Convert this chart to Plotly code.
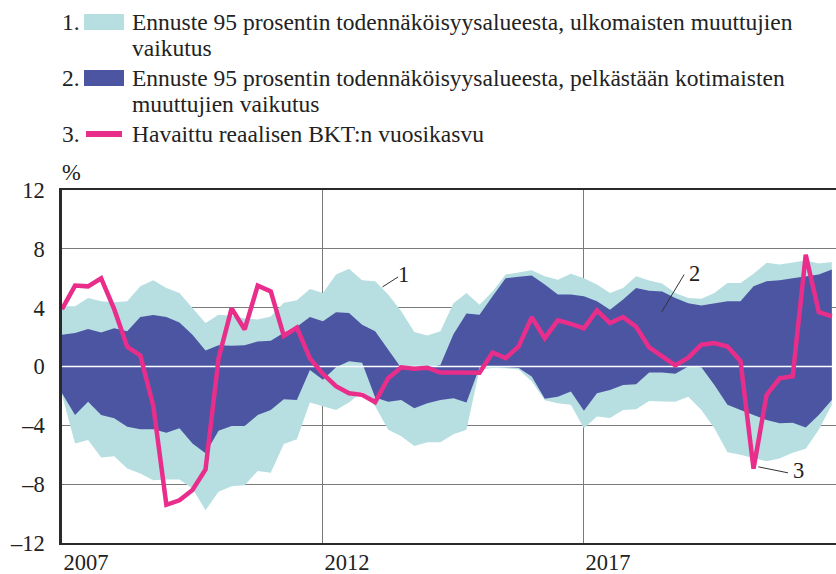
import plotly.graph_objects as go

# ---------------- data (quarterly, 2007Q1 .. 2021Q4) ----------------
start_year = 2007
quarters = 60
x_vals = [start_year + 0.25 * k for k in range(quarters)]

light_upper = [4.09, 4.09, 4.66, 4.43, 4.36, 4.43, 5.45, 5.86, 5.34, 5.0,
               3.98, 2.95, 3.52, 3.45, 3.27, 3.2, 3.4, 4.33, 4.5, 5.27,
               5.0, 6.25, 6.64, 5.86, 5.8, 4.9, 3.75, 2.35, 2.1, 2.39,
               4.3, 5.0, 4.2, 5.1, 6.25, 6.4, 6.55, 6.14, 5.9, 6.3,
               6.0, 5.57, 5.0, 5.34, 6.14, 5.85, 5.64, 5.0, 4.66, 4.6,
               5.0, 5.68, 5.68, 6.3, 7.05, 6.93, 7.05, 7.2, 7.0, 7.1]
light_lower = [-1.93, -5.23, -5.0, -6.18, -6.1, -6.93, -7.27, -7.73, -7.68, -7.68,
               -8.3, -9.77, -8.52, -8.14, -8.07, -7.1, -7.23, -5.27, -4.95, -2.45,
               -2.7, -2.95, -2.45, -1.7, -2.7, -4.3, -4.75, -5.4, -5.15, -5.15,
               -4.6, -4.3, -0.2, -0.1, -0.12, -0.2, -1.0, -2.3, -2.5, -2.6,
               -4.2, -3.4, -3.5, -2.95, -2.9, -2.35, -2.38, -2.4, -2.05, -2.95,
               -4.2, -5.83, -6.0, -6.25, -6.45, -6.25, -5.87, -5.6, -4.3, -2.6]
dark_upper = [2.16, 2.27, 2.55, 2.32, 2.6, 2.39, 3.36, 3.5, 3.36, 3.0,
              2.16, 1.09, 1.45, 1.41, 1.45, 1.7, 1.75, 2.3, 2.7, 3.36,
              3.07, 3.68, 3.64, 2.84, 2.39, 1.1, -0.1, -0.2, -0.1, 0.1,
              2.2, 3.6, 3.52, 4.77, 6.0, 6.1, 6.18, 5.57, 4.89, 4.89,
              4.77, 4.43, 3.86, 4.55, 5.34, 5.15, 5.1, 4.66, 4.3, 4.14,
              4.3, 4.43, 4.43, 5.45, 5.8, 5.86, 6.0, 6.14, 6.25, 6.6]
dark_lower = [-1.82, -3.3, -2.39, -3.3, -3.52, -4.09, -4.27, -4.27, -4.5, -4.2,
              -5.23, -5.9, -4.36, -4.05, -4.05, -3.3, -2.95, -2.23, -2.27, -0.23,
              -0.9, -0.05, 0.35, 0.25, -2.1, -2.39, -2.27, -2.84, -2.5, -2.27,
              -2.16, -2.45, -0.05, -0.02, -0.05, -0.1, -0.68, -2.2, -2.05, -1.7,
              -3.0, -1.82, -1.6, -1.25, -1.2, -0.4, -0.41, -0.5, 0.0, -0.05,
              -1.25, -2.6, -2.95, -3.3, -3.64, -3.86, -3.82, -4.14, -3.3, -2.27]
gdp_growth = [3.9, 5.5, 5.45, 6.0, 3.9, 1.34, 0.76, -2.7, -9.4, -9.1,
              -8.4, -7.0, 0.55, 3.95, 2.52, 5.5, 5.1, 2.08, 2.65, 0.55,
              -0.5, -1.34, -1.82, -1.93, -2.42, -0.8, -0.05, -0.15, -0.08, -0.41,
              -0.41, -0.45, -0.43, 0.95, 0.57, 1.36, 3.36, 1.93, 3.14, 2.9,
              2.6, 3.82, 2.95, 3.36, 2.7, 1.3, 0.7, 0.08, 0.6, 1.48,
              1.6, 1.36, 0.38, -6.95, -1.93, -0.8, -0.66, 7.6, 3.7, 3.4]

y_ticks = [-12, -8, -4, 0, 4, 8, 12]
y_tick_labels = ["–12", "–8", "–4", "0", "4", "8", "12"]
x_ticks = [2007, 2012, 2017]
x_tick_labels = ["2007", "2012", "2017"]

legend_numbers = ["1.", "2.", "3."]
legend_lines = [
    ["Ennuste 95 prosentin todennäköisyysalueesta, ulkomaisten muuttujien", "vaikutus"],
    ["Ennuste 95 prosentin todennäköisyysalueesta, pelkästään kotimaisten", "muuttujien vaikutus"],
    ["Havaittu reaalisen BKT:n vuosikasvu"],
]
unit_label = "%"

# ---------------- styles ----------------
LIGHT = "#b7dfe1"
DARK = "#4c55a2"
PINK = "#e82e8a"
GRID = "#7a7a7a"
AXIS = "#2a2a2a"
TEXT = "#222222"
FONT = "Liberation Serif"
FS = 22.5
FS_LEG = 23.5

W, H = 836, 574
L, R, T, B = 62, 0, 190, 31
PW, PH = W - L - R, H - T - B


def px_x(px):
    return (px - L) / PW


def px_y(py):
    return (H - B - py) / PH


fig = go.Figure()

# light band (external variables)
fig.add_trace(go.Scatter(x=x_vals, y=light_upper, mode="lines",
                         line=dict(width=0, color=LIGHT), hoverinfo="skip", showlegend=False))
fig.add_trace(go.Scatter(x=x_vals, y=light_lower, mode="lines", fill="tonexty",
                         fillcolor=LIGHT, line=dict(width=0, color=LIGHT),
                         hoverinfo="skip", showlegend=False))
# dark band (domestic only)
fig.add_trace(go.Scatter(x=x_vals, y=dark_upper, mode="lines",
                         line=dict(width=0, color=DARK), hoverinfo="skip", showlegend=False))
fig.add_trace(go.Scatter(x=x_vals, y=dark_lower, mode="lines", fill="tonexty",
                         fillcolor=DARK, line=dict(width=0, color=DARK),
                         hoverinfo="skip", showlegend=False))
# white zero line
fig.add_trace(go.Scatter(x=[x_vals[0], x_vals[-1] + 0.2], y=[0, 0], mode="lines",
                         line=dict(width=1.6, color="white"), hoverinfo="skip", showlegend=False))
# observed GDP growth
fig.add_trace(go.Scatter(x=x_vals, y=gdp_growth, mode="lines",
                         line=dict(width=4.5, color=PINK), showlegend=False))

shapes = []
annotations = []

# legend
legend_rows_y = [22, 78, 134]
line_gap = 26
for i in range(3):
    yc = legend_rows_y[i]
    annotations.append(dict(x=px_x(60), y=px_y(yc), xref="paper", yref="paper",
                            text=legend_numbers[i], showarrow=False, xanchor="left",
                            yanchor="middle", font=dict(family=FONT, size=FS_LEG, color=TEXT)))
    for j, ln in enumerate(legend_lines[i]):
        annotations.append(dict(x=px_x(130), y=px_y(yc + j * line_gap), xref="paper", yref="paper",
                                text=ln, showarrow=False, xanchor="left", yanchor="middle",
                                font=dict(family=FONT, size=FS_LEG, color=TEXT)))
    if i < 2:
        shapes.append(dict(type="rect", xref="paper", yref="paper",
                           x0=px_x(84), x1=px_x(124), y0=px_y(yc - 8), y1=px_y(yc + 8),
                           fillcolor=LIGHT if i == 0 else DARK, line=dict(width=0)))
    else:
        shapes.append(dict(type="line", xref="paper", yref="paper",
                           x0=px_x(86), x1=px_x(122), y0=px_y(yc), y1=px_y(yc),
                           line=dict(color=PINK, width=6)))

# unit label
annotations.append(dict(x=px_x(60), y=px_y(172), xref="paper", yref="paper", text=unit_label,
                        showarrow=False, xanchor="left", yanchor="middle",
                        font=dict(family=FONT, size=FS, color=TEXT)))

# series labels with leader lines
series_labels = [("1", 2013.55, 6.25, (2013.14, 5.41), (2013.44, 6.09)),
                 ("2", 2019.11, 6.32, (2018.49, 3.71), (2018.92, 6.25)),
                 ("3", 2021.12, -7.04, (2020.34, -6.82), (2020.91, -7.23))]
for txt, tx, ty, p0, p1 in series_labels:
    annotations.append(dict(x=tx, y=ty, xref="x", yref="y", text=txt, showarrow=False,
                            xanchor="center", yanchor="middle",
                            font=dict(family=FONT, size=FS, color=TEXT)))
    shapes.append(dict(type="line", xref="x", yref="y", x0=p0[0], y0=p0[1], x1=p1[0], y1=p1[1],
                       line=dict(color="#333333", width=1), layer="above"))

fig.update_layout(
    width=W, height=H,
    margin=dict(l=L, r=R, t=T, b=B, autoexpand=False),
    paper_bgcolor="white", plot_bgcolor="white",
    shapes=shapes, annotations=annotations,
    font=dict(family=FONT, size=FS, color=TEXT),
    xaxis=dict(range=[2007, 2021.83], tickmode="array", tickvals=x_ticks, ticktext=x_tick_labels,
               showgrid=True, gridcolor=GRID, gridwidth=1.3, zeroline=False,
               showline=True, linecolor=AXIS, linewidth=2.2, mirror=True, automargin=False,
               ticks="", ticklabelshift=24, ticklabelstandoff=-2,
               tickfont=dict(family=FONT, size=FS, color=TEXT), fixedrange=True),
    yaxis=dict(range=[-12, 12], tickmode="array", tickvals=y_ticks, ticktext=y_tick_labels,
               showgrid=True, gridcolor=GRID, gridwidth=1.3, zeroline=False,
               showline=True, linecolor=AXIS, linewidth=2.5, mirror=False, automargin=False,
               ticks="", ticklabelstandoff=10,
               tickfont=dict(family=FONT, size=FS, color=TEXT), fixedrange=True),
)

fig.write_html("out.html", config={"displayModeBar": False},
               post_script="document.body.style.margin='0';document.body.style.padding='0';")
